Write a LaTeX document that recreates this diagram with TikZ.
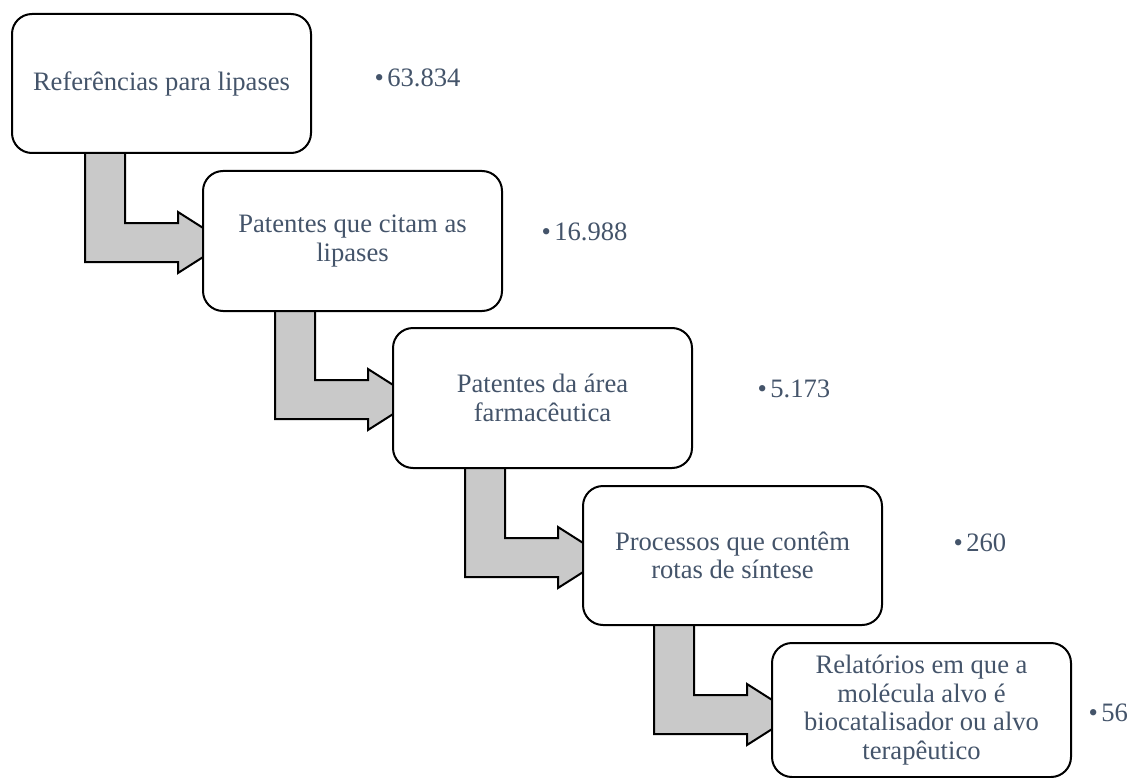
\documentclass[tikz,border=0pt]{standalone}
\usepackage{fontspec}
\setmainfont{Liberation Serif}
\usetikzlibrary{calc}
\pgfdeclarelayer{bg}
\pgfsetlayers{bg,main}
\definecolor{txt}{HTML}{44546A}
\definecolor{arrowgray}{HTML}{C9C9C9}
\tikzset{
  box/.style={draw=black, line width=2pt, fill=white, rounded corners=20pt,
    minimum width=299pt, minimum height=140pt, anchor=north west, align=center,
    text=txt, font=\fontsize{26.6}{28.5}\selectfont, inner sep=0pt, outer sep=0pt},
  countlabel/.style={anchor=base west, text=txt, font=\fontsize{26.6}{28.5}\selectfont, inner sep=0pt},
  bentarrow/.style={draw=black, line width=2pt, fill=arrowgray, line join=miter},
}
\newcommand{\stepconnector}[2]{%
  \begin{pgfonlayer}{bg}
  \draw[bentarrow] let \p1=(#2.north west), \p2=(#1.south) in
    (\x1-118pt,\y2+6pt) -- (\x1-78pt,\y2+6pt) -- (\x1-78pt,\y1-52pt)
    -- (\x1-25pt,\y1-52pt) -- (\x1-25pt,\y1-41pt) -- (\x1+23pt,\y1-71.5pt)
    -- (\x1-25pt,\y1-102pt) -- (\x1-25pt,\y1-91pt) -- (\x1-118pt,\y1-91pt) -- cycle;
  \end{pgfonlayer}}
\begin{document}
\begin{tikzpicture}[x=1pt,y=-1pt]
\useasboundingbox (0,0) rectangle (1131,778);
\node[box, minimum height=139pt] (b1) at (12,14) {Referências para lipases};
\node[box] (b2) at (203,171) {Patentes que citam as\\lipases};
\node[box] (b3) at (393,328) {Patentes da área\\farmacêutica};
\node[box, minimum height=139pt] (b4) at (583,486) {Processos que contêm\\rotas de síntese};
\node[box, minimum height=134pt] (b5) at (772,643) {Relatórios em que a\\molécula alvo é\\biocatalisador ou alvo\\terapêutico};
\stepconnector{b1}{b2}
\stepconnector{b2}{b3}
\stepconnector{b3}{b4}
\stepconnector{b4}{b5}
\node[countlabel] (n1) at (374.5,87) {•\hspace{3.3pt}63.834};
\node[countlabel] (n2) at (541.5,240) {•\hspace{3.3pt}16.988};
\node[countlabel] (n3) at (757.5,397) {•\hspace{3.3pt}5.173};
\node[countlabel] (n4) at (953.5,551) {•\hspace{3.3pt}260};
\node[countlabel] (n5) at (1088.5,721) {•\hspace{3.3pt}56};
\end{tikzpicture}
\end{document}
